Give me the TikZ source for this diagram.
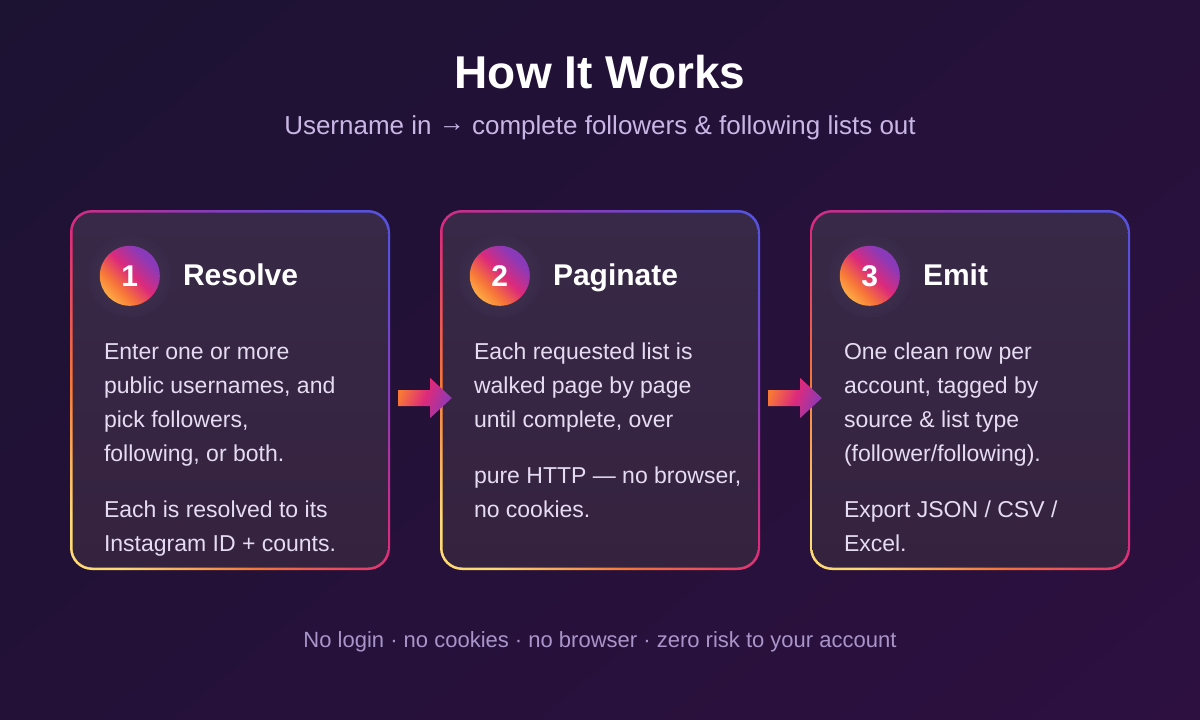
\documentclass[tikz,border=0pt]{standalone}
\usepackage{fontspec}
\setmainfont{Liberation Sans}
\usetikzlibrary{calc}
\definecolor{bgtop}{HTML}{1C1232}
\definecolor{bgbot}{HTML}{2D1040}
\definecolor{cardtop}{HTML}{372947}
\definecolor{cardbot}{HTML}{35223F}
\definecolor{igyellow}{HTML}{FEDA75}
\definecolor{iglight}{HTML}{FCAF45}
\definecolor{igorange}{HTML}{F77737}
\definecolor{igpink}{HTML}{DD2A7B}
\definecolor{igpurple}{HTML}{8A3AB9}
\definecolor{igblue}{HTML}{5851DB}
\definecolor{bodytxt}{HTML}{E6DCF2}
\definecolor{subtxt}{HTML}{C9B6E4}
\definecolor{foottxt}{HTML}{A995C9}
\pgfdeclareverticalshading{igdiag}{100bp}{color(0bp)=(igyellow); color(20bp)=(igyellow); color(34bp)=(igorange); color(50bp)=(igpink); color(66bp)=(igpurple); color(80bp)=(igblue); color(100bp)=(igblue)}
\pgfdeclareverticalshading{igcirc}{100bp}{color(0bp)=(iglight); color(24bp)=(iglight); color(36bp)=(igorange); color(52bp)=(igpink); color(70bp)=(igpurple); color(100bp)=(igpurple)}
\pgfdeclarehorizontalshading{igarrow}{100bp}{color(0bp)=(igorange); color(25bp)=(igorange); color(50bp)=(igpink); color(75bp)=(igpurple); color(100bp)=(igpurple)}
\begin{document}
\begin{tikzpicture}[x=1pt,y=-1pt,
  cardouter/.style={rectangle, rounded corners=22pt, minimum width=320pt, minimum height=360pt, inner sep=0pt, shade, shading=igdiag, shading angle=-45},
  cardinner/.style={rectangle, rounded corners=20pt, minimum width=315pt, minimum height=355pt, inner sep=0pt, top color=cardtop, bottom color=cardbot},
  halo/.style={circle, minimum size=84pt, inner sep=0pt, shade, inner color=white!7!cardtop, outer color=cardtop},
  numcirc/.style={circle, minimum size=60pt, inner sep=0pt, shade, shading=igcirc, shading angle=-45, text=white, font=\fontsize{30}{34}\selectfont\bfseries},
  steptitle/.style={anchor=base west, inner sep=0pt, text=white, font=\fontsize{30}{34}\selectfont\bfseries},
  bodyline/.style={anchor=base west, inner sep=0pt, text=bodytxt, font=\fontsize{23}{27}\selectfont},
  arrowshade/.style={shade, shading=igarrow, shading angle=-20},
]
\useasboundingbox (0,0) rectangle (1200,720);
\shade[top color=bgtop, bottom color=bgbot, shading angle=40] (-200,-200) rectangle (1400,920);

\node[anchor=base, inner sep=0pt, text=white, font=\fontsize{46}{54}\selectfont\bfseries] (title) at (600,88) {How It Works};
\node[anchor=base, inner sep=0pt, text=subtxt, font=\fontsize{26}{30}\selectfont] (subtitle) at (600,134) {Username in \raisebox{3pt}{→} complete followers \& following lists out};

% cards
\foreach \i/\cx in {1/230, 2/600, 3/970} {
  \node[cardouter] (c\i) at (\cx,390) {};
  \node[cardinner] (ci\i) at (c\i.center) {};
  \node[halo] (h\i) at ($(c\i.north west)+(60,66)$) {};
  \node[numcirc] (n\i) at (h\i.center) {\i};
}
\node[steptitle] (t1) at ($(c1.north west)+(113,76)$) {Resolve};
\node[steptitle] (t2) at ($(c2.north west)+(113,76)$) {Paginate};
\node[steptitle] (t3) at ($(c3.north west)+(113,76)$) {Emit};

\foreach \j/\dy/\t in {1/150/{Enter one or more}, 2/184/{public usernames, and}, 3/218/{pick followers,}, 4/252/{following, or both.}, 5/308/{Each is resolved to its}, 6/342/{Instagram ID + counts.}}
  \node[bodyline] (b1l\j) at ($(c1.north west)+(34,\dy)$) {\t};
\foreach \j/\dy/\t in {1/150/{Each requested list is}, 2/184/{walked page by page}, 3/218/{until complete, over}, 4/274/{pure HTTP — no browser,}, 5/308/{no cookies.}}
  \node[bodyline] (b2l\j) at ($(c2.north west)+(34,\dy)$) {\t};
\foreach \j/\dy/\t in {1/150/{One clean row per}, 2/184/{account, tagged by}, 3/218/{source \& list type}, 4/252/{(follower/following).}, 5/308/{Export JSON / CSV /}, 6/342/{Excel.}}
  \node[bodyline] (b3l\j) at ($(c3.north west)+(34,\dy)$) {\t};

% connectors
\coordinate (a1s) at ($(c1.east)+(8,8)$);
\coordinate (a1t) at ($(c2.west)+(12,8)$);
\coordinate (a2s) at ($(c2.east)+(8,8)$);
\coordinate (a2t) at ($(c3.west)+(12,8)$);
\foreach \s/\t in {a1s/a1t, a2s/a2t}
  \path[arrowshade] ($(\s)+(0,-8)$) -- ($(\s)+(32,-8)$) -- ($(\s)+(32,-20)$) -- (\t) -- ($(\s)+(32,20)$) -- ($(\s)+(32,8)$) -- ($(\s)+(0,8)$) -- cycle;

\node[anchor=base, inner sep=0pt, text=foottxt, font=\fontsize{22}{26}\selectfont] (footer) at (600,647) {No login · no cookies · no browser · zero risk to your account};
\end{tikzpicture}
\end{document}
